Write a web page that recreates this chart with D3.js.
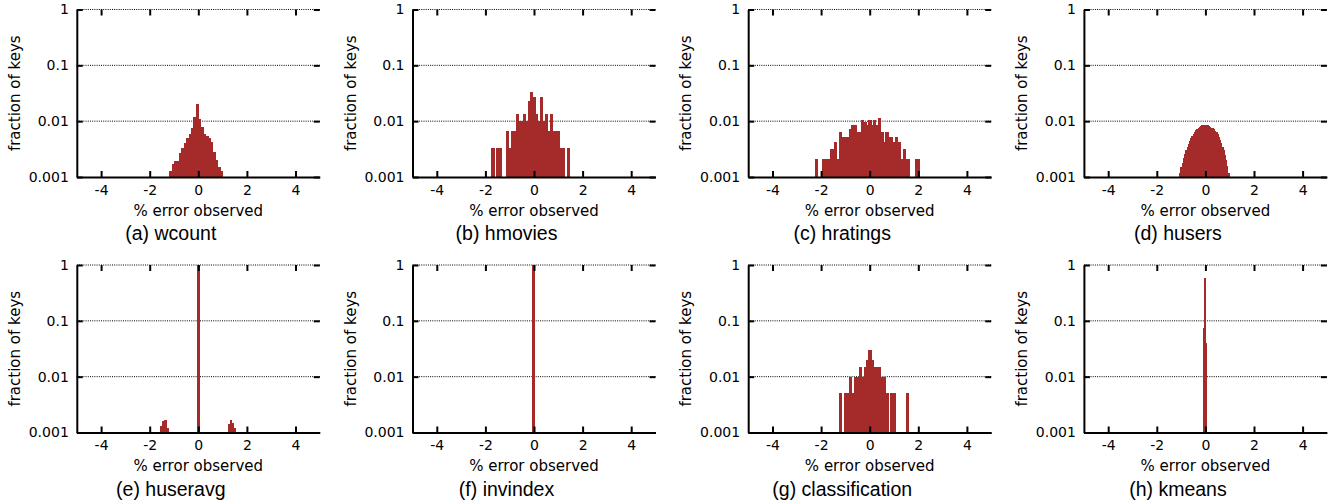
<!DOCTYPE html>
<html>
<head>
<meta charset="utf-8">
<script src="https://cdn.jsdelivr.net/npm/d3@7"></script>
<style>
  body { margin: 0; background: #fff; }
</style>
</head>
<body>
<svg width="1338" height="503"></svg>
<script>
// bin centres (% error) and fraction of keys
const wcountX = [-1.15, -1.05, -0.95, -0.85, -0.75, -0.65, -0.55, -0.45, -0.35, -0.25, -0.15, -0.05, 0.05, 0.15, 0.25, 0.35, 0.45, 0.55, 0.65, 0.75, 0.85, 0.95];
const wcountY = [0.0013, 0.0017, 0.0019, 0.0019, 0.0027, 0.0033, 0.0041, 0.005, 0.0059, 0.0075, 0.012, 0.02, 0.011, 0.008, 0.006, 0.0055, 0.005, 0.0043, 0.0028, 0.002, 0.0015, 0.0013];

const hmoviesX = [-1.7, -1.5, -1.4, -1.1, -1.0, -0.9, -0.8, -0.7, -0.6, -0.5, -0.4, -0.3, -0.2, -0.1, 0, 0.1, 0.2, 0.3, 0.4, 0.5, 0.6, 0.7, 0.8, 0.9, 1.0, 1.1, 1.2, 1.4];
const hmoviesY = [0.0033, 0.0033, 0.0033, 0.0067, 0.0033, 0.0067, 0.0067, 0.0133, 0.01, 0.01, 0.0133, 0.01, 0.0233, 0.0333, 0.0267, 0.0133, 0.01, 0.0267, 0.01, 0.0133, 0.0067, 0.0133, 0.0067, 0.0067, 0.0067, 0.0033, 0.0033, 0.0033];

const hratingsX = [-2.2, -1.9, -1.8, -1.7, -1.6, -1.5, -1.4, -1.3, -1.2, -1.1, -1.0, -0.9, -0.8, -0.7, -0.6, -0.5, -0.4, -0.3, -0.2, -0.1, 0, 0.1, 0.2, 0.3, 0.4, 0.5, 0.6, 0.7, 0.8, 0.9, 1.0, 1.1, 1.2, 1.3, 1.4, 1.5, 1.6, 1.9, 2.0];
const hratingsY = [0.0021, 0.0021, 0.0021, 0.0021, 0.0032, 0.0032, 0.0042, 0.0021, 0.0063, 0.0052, 0.0052, 0.0052, 0.0073, 0.0085, 0.0085, 0.0063, 0.0063, 0.0105, 0.0095, 0.0085, 0.0105, 0.0085, 0.0105, 0.0085, 0.0116, 0.0063, 0.0042, 0.0063, 0.0052, 0.0052, 0.0042, 0.0052, 0.0042, 0.0021, 0.0032, 0.0021, 0.0021, 0.0021, 0.0021];

const husersX = [-1.05, -1.0, -0.95, -0.9, -0.85, -0.8, -0.75, -0.7, -0.65, -0.6, -0.55, -0.5, -0.45, -0.4, -0.35, -0.3, -0.25, -0.2, -0.15, -0.1, -0.05, 0, 0.05, 0.1, 0.15, 0.2, 0.25, 0.3, 0.35, 0.4, 0.45, 0.5, 0.55, 0.6, 0.65, 0.7, 0.75, 0.8, 0.85, 0.9, 0.95];
const husersY = [0.0012, 0.0015, 0.0018, 0.0022, 0.0026, 0.003, 0.0034, 0.0039, 0.0044, 0.0049, 0.0054, 0.0059, 0.0064, 0.0069, 0.0073, 0.0077, 0.008, 0.0083, 0.0085, 0.0087, 0.0087, 0.0087, 0.0086, 0.0084, 0.0082, 0.008, 0.0077, 0.0074, 0.0071, 0.0067, 0.0063, 0.0058, 0.0052, 0.0046, 0.004, 0.0035, 0.003, 0.0025, 0.002, 0.0016, 0.0012];

const huseravgX = [-1.52, -1.44, -1.36, -1.28, 0, 1.25, 1.33, 1.41, 1.49];
const huseravgY = [0.0013, 0.0016, 0.0017, 0.0012, 0.99, 0.0014, 0.0017, 0.0015, 0.0012];

const invindexX = [-0.03];
const invindexY = [1.0];

const classificationX = [-1.2, -1.0, -0.9, -0.8, -0.7, -0.6, -0.5, -0.4, -0.3, -0.2, -0.1, 0, 0.1, 0.2, 0.3, 0.4, 0.5, 0.6, 0.7, 0.9, 1.0, 1.55];
const classificationY = [0.005, 0.005, 0.005, 0.01, 0.005, 0.01, 0.01, 0.015, 0.01, 0.015, 0.02, 0.03, 0.02, 0.015, 0.015, 0.015, 0.01, 0.01, 0.005, 0.005, 0.005, 0.005];

const kmeansX = [-0.075, -0.02, 0.035];
const kmeansY = [0.075, 0.58, 0.04];

const captions = ['(a) wcount', '(b) hmovies', '(c) hratings', '(d) husers',
                  '(e) huseravg', '(f) invindex', '(g) classification', '(h) kmeans'];
const binWidths = [0.1, 0.1, 0.1, 0.05, 0.08, 0.07, 0.1, 0.05];
const seriesX = [wcountX, hmoviesX, hratingsX, husersX, huseravgX, invindexX, classificationX, kmeansX];
const seriesY = [wcountY, hmoviesY, hratingsY, husersY, huseravgY, invindexY, classificationY, kmeansY];

const xTicks = [-4, -2, 0, 2, 4];
const yTicks = [0.001, 0.01, 0.1, 1];

const svg = d3.select('svg');
const barColor = '#a52a2a';
const tickFont = 'DejaVu Sans, sans-serif';
const captionFont = 'Liberation Sans, Arial, sans-serif';

const innerWidth = 243;
const innerHeight = 167.5;
const colLeft = [76.8, 412.5, 748.2, 1083.9];
const rowTop = [9.5, 265];

const xScale = d3.scaleLinear().domain([-5, 5]).range([0, innerWidth]);
const yScale = d3.scaleLog().domain([0.001, 1]).range([innerHeight, 0]);

const render = i => {
    const g = svg.append('g')
        .attr('transform', `translate(${colLeft[i % 4]},${rowTop[Math.floor(i / 4)]})`);

    // dotted grid
    g.selectAll('.grid').data(yTicks.slice(1))
      .enter().append('line')
        .attr('class', 'grid')
        .attr('x1', 0)
        .attr('x2', innerWidth)
        .attr('y1', d => yScale(d))
        .attr('y2', d => yScale(d))
        .attr('stroke', '#000')
        .attr('stroke-width', 1)
        .attr('stroke-dasharray', '1,1.2');

    const data = seriesX[i].map((x, j) => ({ x, y: seriesY[i][j] }));
    const w = binWidths[i];
    g.append('g')
        .attr('shape-rendering', 'crispEdges')
      .selectAll('rect').data(data)
      .enter().append('rect')
        .attr('x', d => xScale(d.x - w / 2))
        .attr('width', d => xScale(d.x + w / 2) - xScale(d.x - w / 2) + 0.6)
        .attr('y', d => yScale(d.y))
        .attr('height', d => yScale(0.001) - yScale(d.y))
        .attr('fill', barColor);

    // mirrored ticks on top and right
    const topG = g.append('g').call(d3.axisTop(xScale).tickValues(xTicks).tickSize(-6));
    const rightG = g.append('g').attr('transform', `translate(${innerWidth},0)`)
        .call(d3.axisRight(yScale).tickValues(yTicks).tickSize(-6));
    topG.selectAll('.domain, text').remove();
    rightG.selectAll('.domain, text').remove();

    const yAxisG = g.append('g')
        .call(d3.axisLeft(yScale).tickValues(yTicks).tickSizeInner(-6).tickSizeOuter(0)
            .tickPadding(8).tickFormat(d => String(d)))
        .attr('font-size', 14)
        .attr('font-family', tickFont);

    const xAxisG = g.append('g')
        .attr('transform', `translate(0,${innerHeight})`)
        .call(d3.axisBottom(xScale).tickValues(xTicks).tickSizeInner(-6).tickSizeOuter(0)
            .tickPadding(8).tickFormat(d => String(d)))
        .attr('font-size', 14)
        .attr('font-family', tickFont);

    g.selectAll('.domain').attr('stroke-width', 2);
    g.selectAll('.tick line').attr('stroke-width', 2);

    yAxisG.append('text')
        .attr('transform', 'rotate(-90)')
        .attr('x', -innerHeight / 2)
        .attr('y', -57)
        .attr('fill', 'black')
        .attr('font-size', 15)
        .attr('text-anchor', 'middle')
        .text('fraction of keys');

    xAxisG.append('text')
        .attr('x', innerWidth / 2)
        .attr('y', 38.5)
        .attr('fill', 'black')
        .attr('font-size', 15)
        .attr('text-anchor', 'middle')
        .text('% error observed');

    g.append('text')
        .attr('x', innerWidth / 2 - 27.5)
        .attr('y', innerHeight + 63)
        .attr('fill', 'black')
        .attr('font-family', captionFont)
        .attr('font-size', 19.5)
        .attr('text-anchor', 'middle')
        .text(captions[i]);
};

d3.range(8).forEach(render);
</script>
</body>
</html>
